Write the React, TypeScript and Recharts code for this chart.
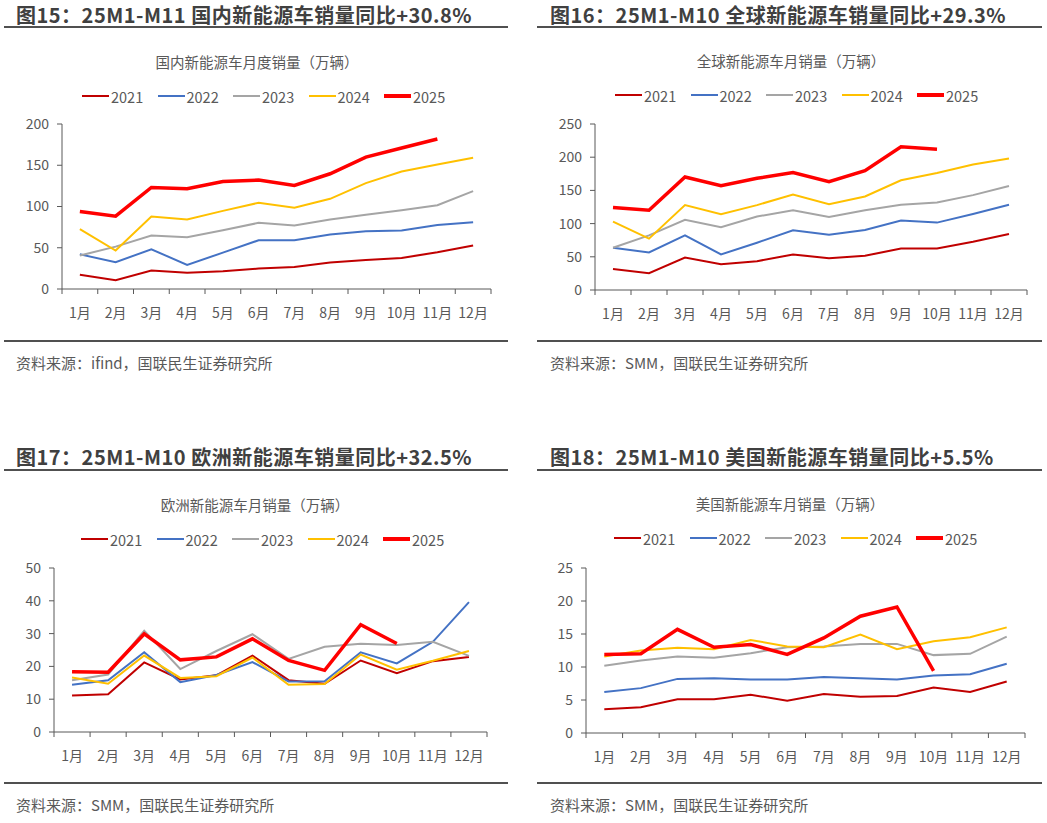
import React from "react";
import { LineChart, Line, XAxis, YAxis } from "recharts";

const months = ["1月", "2月", "3月", "4月", "5月", "6月", "7月", "8月", "9月", "10月", "11月", "12月"];
const years = ["2021", "2022", "2023", "2024", "2025"];
const yearColors = ["#C00000", "#4472C4", "#A5A5A5", "#FFC000", "#FF0000"];
const yearWidths = [2, 2, 2, 2, 3.5];

// 国内新能源车月度销量（万辆）
const chinaSales: (number | null)[][] = [
  [17.4, 10.5, 22.3, 19.8, 21.5, 24.7, 26.7, 32, 35.2, 37.7, 44.5, 52.6],
  [42, 32.4, 48.2, 29.1, 44.1, 59.1, 59.1, 66, 70, 70.9, 77.7, 81],
  [40.5, 51.4, 64.8, 62.8, 71.3, 80.2, 76.9, 84.2, 89.9, 95.5, 101.6, 118.6],
  [72.5, 46.6, 87.9, 84.2, 94.7, 104.5, 98.4, 109.3, 128.3, 142.5, 151, 159.1],
  [93.9, 88.3, 123.1, 121.5, 130.4, 132, 125.5, 139.7, 159.9, 170.9, 181.8, null],
];
const chinaTicks = [0, 50, 100, 150, 200];

// 全球新能源车月销量（万辆）
const globalSales: (number | null)[][] = [
  [31.8, 25.3, 49, 38.9, 43.4, 53.5, 48, 51.5, 62.6, 62.6, 72.7, 84.3],
  [63.6, 56.6, 82.3, 53.5, 71.2, 89.9, 83.3, 90.4, 104.5, 101.5, 114.6, 128.3],
  [63.6, 82.3, 105.6, 94.4, 110.6, 120.2, 110.1, 120.2, 128.3, 131.8, 142.9, 156.6],
  [103, 77.3, 127.8, 114.1, 127.8, 143.9, 129.3, 140.9, 165.2, 176.3, 188.9, 198],
  [124.2, 120.2, 170.2, 157.1, 168.2, 176.8, 163.1, 179.8, 215.7, 212.1, null, null],
];
const globalTicks = [0, 50, 100, 150, 200, 250];

// 欧洲新能源车月销量（万辆）
const europeSales: (number | null)[][] = [
  [11.1, 11.5, 21.2, 16, 17.3, 23.3, 15.8, 14.7, 21.8, 17.9, 21.6, 22.9],
  [14.4, 15.8, 24.3, 15.2, 17.4, 21.3, 15.4, 15.5, 24.3, 20.9, 27.5, 39.6],
  [15.8, 17.5, 30.9, 19.2, 24.7, 29.8, 22.3, 26, 26.9, 26.5, 27.5, 23.2],
  [16.6, 14.7, 23.3, 16.5, 17, 22.7, 14.4, 14.6, 23.6, 19, 21.7, 24.7],
  [18.4, 18.2, 29.9, 22, 22.9, 28.4, 21.8, 18.8, 32.7, 27, null, null],
];
const europeTicks = [0, 10, 20, 30, 40, 50];

// 美国新能源车月销量（万辆）
const usSales: (number | null)[][] = [
  [3.6, 3.9, 5.1, 5.1, 5.8, 4.9, 5.9, 5.5, 5.6, 6.9, 6.2, 7.8],
  [6.2, 6.8, 8.2, 8.3, 8.1, 8.1, 8.5, 8.3, 8.1, 8.7, 8.9, 10.5],
  [10.2, 11, 11.6, 11.4, 12.1, 13, 13.1, 13.5, 13.5, 11.8, 12, 14.6],
  [11.6, 12.5, 12.9, 12.7, 14.1, 13.1, 13, 14.9, 12.7, 13.9, 14.5, 16],
  [11.9, 12, 15.7, 13, 13.4, 11.9, 14.4, 17.7, 19.1, 9.4, null, null],
];
const usTicks = [0, 5, 10, 15, 20, 25];

const FONT = '"Noto Sans CJK SC", "Noto Sans", sans-serif';
const TEXT = "#595959";
const AXIS = "#595959";

type Box = { l: number; r: number; t: number; b: number };

type PanelProps = {
  title: string;
  chartTitle: string;
  source: string;
  rows: (number | null)[][];
  ticks: number[];
  titleX: number;
  titleY: number;
  ruleY: number;
  ruleX1: number;
  ruleX2: number;
  chartTitleCx: number;
  chartTitleY: number;
  legendX: number;
  legendY: number;
  plot: Box;
  bottomRuleY: number;
};

function Panel(p: PanelProps) {
  const data = months.map((m, i) => {
    const row: Record<string, string | number | null> = { month: m };
    years.forEach((y, k) => {
      row[y] = p.rows[k][i];
    });
    return row;
  });

  const yAxisW = 60;
  const mTop = 10;
  const mRight = 10;
  const xAxisH = 40;
  const plotW = p.plot.r - p.plot.l;
  const plotH = p.plot.b - p.plot.t;
  const band = plotW / months.length;
  const axisY = mTop + plotH;

  // tick marks sit between the months, labels at the month centres
  const XTick = (props: any) => {
    const { x, index } = props;
    const half = band / 2;
    return (
      <g>
        <line x1={x - half} x2={x - half} y1={axisY} y2={axisY + 5} stroke={AXIS} strokeWidth={1} />
        {index === months.length - 1 && (
          <line x1={x + half} x2={x + half} y1={axisY} y2={axisY + 5} stroke={AXIS} strokeWidth={1} />
        )}
        <text
          x={x}
          y={axisY + 23}
          textAnchor="middle"
          dominantBaseline="central"
          fill={TEXT}
          fontSize={14}
          fontFamily={FONT}
        >
          {props.payload.value}
        </text>
      </g>
    );
  };

  return (
    <>
      <div
        style={{
          position: "absolute",
          left: p.titleX,
          top: p.titleY - 14,
          height: 28,
          lineHeight: "28px",
          fontSize: 20,
          fontWeight: 700,
          color: "#404040",
          fontFamily: FONT,
          whiteSpace: "nowrap",
          letterSpacing: 0.5,
        }}
      >
        {p.title}
      </div>
      <div
        style={{
          position: "absolute",
          left: p.ruleX1,
          top: p.ruleY - 1,
          width: p.ruleX2 - p.ruleX1,
          height: 2,
          background: "#505050",
        }}
      />
      <div
        style={{
          position: "absolute",
          left: p.chartTitleCx - 150,
          width: 300,
          top: p.chartTitleY - 10,
          height: 20,
          lineHeight: "20px",
          textAlign: "center",
          fontSize: 14.5,
          color: TEXT,
          fontFamily: FONT,
        }}
      >
        {p.chartTitle}
      </div>
      {years.map((y, k) => (
        <div
          key={y}
          style={{
            position: "absolute",
            left: p.legendX + k * 75.5,
            top: p.legendY - 10,
            height: 20,
            display: "flex",
            alignItems: "center",
            fontFamily: FONT,
            fontSize: 14.5,
            color: TEXT,
          }}
        >
          <span
            style={{
              display: "inline-block",
              width: 27,
              height: yearWidths[k] > 2 ? 4 : 2,
              background: yearColors[k],
              marginRight: 2,
            }}
          />
          {y}
        </div>
      ))}
      <div style={{ position: "absolute", left: p.plot.l - yAxisW, top: p.plot.t - mTop }}>
        <LineChart
          width={plotW + yAxisW + mRight}
          height={plotH + mTop + xAxisH}
          data={data}
          margin={{ top: mTop, right: mRight, left: 0, bottom: 0 }}
        >
          <XAxis
            dataKey="month"
            scale="band"
            height={xAxisH}
            interval={0}
            axisLine={{ stroke: AXIS }}
            tickLine={false}
            tick={<XTick />}
          />
          <YAxis
            width={yAxisW}
            domain={[p.ticks[0], p.ticks[p.ticks.length - 1]]}
            ticks={p.ticks}
            interval={0}
            axisLine={{ stroke: AXIS }}
            tickLine={{ stroke: AXIS }}
            tickSize={5}
            tickMargin={8}
            tick={{ fill: TEXT, fontSize: 14, fontFamily: FONT }}
          />
          {years.map((y, k) => (
            <Line
              key={y}
              dataKey={y}
              type="linear"
              stroke={yearColors[k]}
              strokeWidth={yearWidths[k]}
              dot={false}
              activeDot={false}
              isAnimationActive={false}
            />
          ))}
        </LineChart>
      </div>
      <div
        style={{
          position: "absolute",
          left: p.ruleX1,
          top: p.bottomRuleY - 1,
          width: p.ruleX2 - p.ruleX1,
          height: 2,
          background: "#505050",
        }}
      />
      <div
        style={{
          position: "absolute",
          left: p.titleX,
          top: p.bottomRuleY + 12,
          height: 20,
          lineHeight: "20px",
          fontSize: 15,
          color: TEXT,
          fontFamily: FONT,
          whiteSpace: "nowrap",
        }}
      >
        {p.source}
      </div>
    </>
  );
}

export default function App() {
  return (
    <div
      style={{
        position: "absolute",
        left: 0,
        top: 0,
        width: 1047,
        height: 823,
        background: "#fff",
        overflow: "hidden",
      }}
    >
      <Panel
        title="图15：25M1-M11 国内新能源车销量同比+30.8%"
        chartTitle="国内新能源车月度销量（万辆）"
        source="资料来源：ifind，国联民生证券研究所"
        rows={chinaSales}
        ticks={chinaTicks}
        titleX={16}
        titleY={15}
        ruleY={27}
        ruleX1={4}
        ruleX2={508}
        chartTitleCx={257}
        chartTitleY={62}
        legendX={82}
        legendY={96}
        plot={{ l: 62, r: 491, t: 124, b: 289 }}
        bottomRuleY={341}
      />
      <Panel
        title="图16：25M1-M10 全球新能源车销量同比+29.3%"
        chartTitle="全球新能源车月销量（万辆）"
        source="资料来源：SMM，国联民生证券研究所"
        rows={globalSales}
        ticks={globalTicks}
        titleX={550}
        titleY={15}
        ruleY={27}
        ruleX1={537}
        ruleX2={1042}
        chartTitleCx={791}
        chartTitleY={61}
        legendX={615}
        legendY={95}
        plot={{ l: 595, r: 1027, t: 124, b: 290 }}
        bottomRuleY={341}
      />
      <Panel
        title="图17：25M1-M10 欧洲新能源车销量同比+32.5%"
        chartTitle="欧洲新能源车月销量（万辆）"
        source="资料来源：SMM，国联民生证券研究所"
        rows={europeSales}
        ticks={europeTicks}
        titleX={16}
        titleY={457}
        ruleY={470}
        ruleX1={4}
        ruleX2={508}
        chartTitleCx={255}
        chartTitleY={505}
        legendX={81}
        legendY={539}
        plot={{ l: 54, r: 487, t: 568, b: 732 }}
        bottomRuleY={783}
      />
      <Panel
        title="图18：25M1-M10 美国新能源车销量同比+5.5%"
        chartTitle="美国新能源车月销量（万辆）"
        source="资料来源：SMM，国联民生证券研究所"
        rows={usSales}
        ticks={usTicks}
        titleX={550}
        titleY={457}
        ruleY={470}
        ruleX1={537}
        ruleX2={1042}
        chartTitleCx={790}
        chartTitleY={504}
        legendX={614}
        legendY={538}
        plot={{ l: 586, r: 1025, t: 568, b: 733 }}
        bottomRuleY={783}
      />
    </div>
  );
}
